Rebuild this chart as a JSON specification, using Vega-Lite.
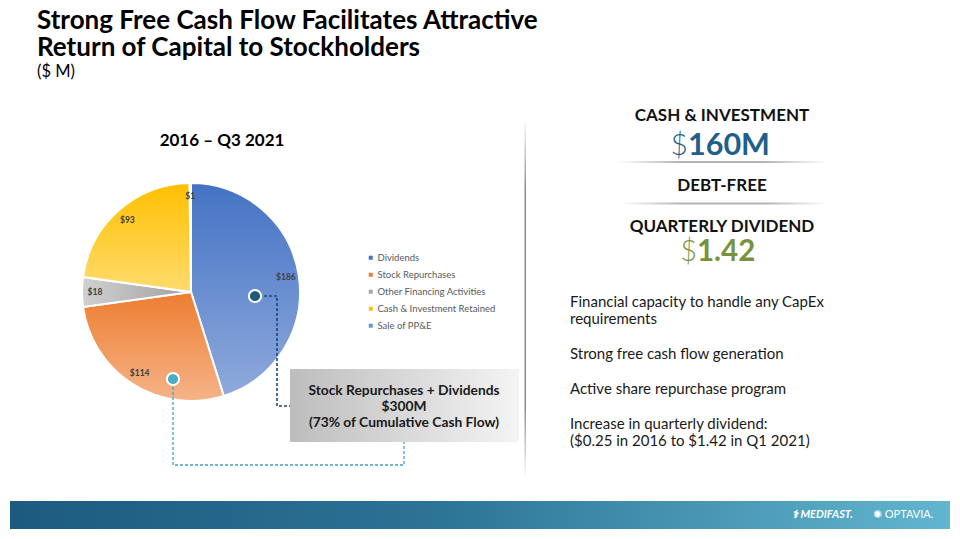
{
  "$schema": "https://vega.github.io/schema/vega-lite/v6.json",
  "width": 960,
  "height": 539,
  "autosize": {"type": "fit", "contains": "padding"},
  "padding": 0,
  "background": "white",
  "config": {"view": {"stroke": null}, "font": "Lato", "text": {"font": "Lato"}},
  "datasets": {
    "pie": [
      {"category": "Dividends", "amount": 186, "label": "$186", "order": 1},
      {"category": "Stock Repurchases", "amount": 114, "label": "$114", "order": 2},
      {"category": "Other Financing Activities", "amount": 18, "label": "$18", "order": 3},
      {"category": "Cash & Investment Retained", "amount": 93, "label": "$93", "order": 4},
      {"category": "Sale of PP&E", "amount": 1, "label": "$1", "order": 5}
    ],
    "banner": [{"x": 10, "x2": 950, "y": 501, "y2": 529}],
    "divider": [{"x": 524.5, "x2": 526, "y": 117, "y2": 480}],
    "underlines": [{"x": 618, "x2": 826, "y": 161, "y2": 163}, {"x": 620, "x2": 828, "y": 202.5, "y2": 204.5}],
    "box": [{"x": 290, "x2": 519, "y": 369, "y2": 442}],
    "darkPath": [{"s": 1, "x": 264, "y": 296}, {"s": 2, "x": 277, "y": 296}, {"s": 3, "x": 277, "y": 406}, {"s": 4, "x": 290, "y": 406}],
    "lightPath": [{"s": 1, "x": 173, "y": 387}, {"s": 2, "x": 173, "y": 465}, {"s": 3, "x": 404, "y": 465}, {"s": 4, "x": 404, "y": 442}],
    "darkDot": [{"x": 255, "y": 296}],
    "lightDot": [{"x": 173, "y": 379}],
    "title": [{"t": "Strong Free Cash Flow Facilitates Attractive", "x": 37, "y": 29}, {"t": "Return of Capital to Stockholders", "x": 37, "y": 56}],
    "subtitle": [{"t": "($ M)", "x": 37, "y": 77}],
    "pieHead": [{"t": "2016 – Q3 2021", "x": 222, "y": 146}],
    "boxText": [{"t": "Stock Repurchases + Dividends", "x": 404, "y": 391}, {"t": "$300M", "x": 404, "y": 407}, {"t": "(73% of Cumulative Cash Flow)", "x": 404, "y": 423}],
    "heads": [{"t": "CASH & INVESTMENT", "x": 722, "y": 116}, {"t": "DEBT-FREE", "x": 722, "y": 186}, {"t": "QUARTERLY DIVIDEND", "x": 722, "y": 227}],
    "bigBlueD": [{"t": "$", "x": 688, "y": 155}],
    "bigBlue": [{"t": "160M", "x": 688, "y": 155}],
    "bigGreenD": [{"t": "$", "x": 697, "y": 261}],
    "bigGreen": [{"t": "1.42", "x": 697, "y": 261}],
    "bullets": [
      {"t": "Financial capacity to handle any CapEx", "x": 570, "y": 307},
      {"t": "requirements", "x": 570, "y": 324},
      {"t": "Strong free cash flow generation", "x": 570, "y": 359},
      {"t": "Active share repurchase program", "x": 570, "y": 394},
      {"t": "Increase in quarterly dividend:", "x": 570, "y": 429},
      {"t": "($0.25 in 2016 to $1.42 in Q1 2021)", "x": 570, "y": 446}
    ],
    "logoBold": [{"t": "⚕ MEDIFAST.", "x": 792, "y": 515}],
    "logoReg": [{"t": "✺ OPTAVIA.", "x": 873, "y": 515}]
  },
  "layer": [
    {
      "data": {"name": "banner"},
      "mark": {"type": "rect", "color": {"gradient": "linear", "x1": 0, "y1": 0, "x2": 1, "y2": 0, "stops": [{"offset": 0, "color": "#1d5a80"}, {"offset": 0.45, "color": "#2c7396"}, {"offset": 1, "color": "#62b6cf"}]}},
      "encoding": {
        "x": {"field": "x", "type": "quantitative", "scale": {"domain": [0, 960], "nice": false, "zero": false}, "axis": null},
        "x2": {"field": "x2"},
        "y": {"field": "y", "type": "quantitative", "scale": {"domain": [0, 539], "nice": false, "zero": false, "reverse": true}, "axis": null},
        "y2": {"field": "y2"}
      }
    },
    {
      "data": {"name": "divider"},
      "mark": {"type": "rect", "color": {"gradient": "linear", "x1": 0, "y1": 0, "x2": 0, "y2": 1, "stops": [{"offset": 0, "color": "#ffffff"}, {"offset": 0.2, "color": "#8c8c8c"}, {"offset": 0.8, "color": "#8c8c8c"}, {"offset": 1, "color": "#ffffff"}]}},
      "encoding": {
        "x": {"field": "x", "type": "quantitative", "scale": {"domain": [0, 960], "nice": false, "zero": false}, "axis": null},
        "x2": {"field": "x2"},
        "y": {"field": "y", "type": "quantitative", "scale": {"domain": [0, 539], "nice": false, "zero": false, "reverse": true}, "axis": null},
        "y2": {"field": "y2"}
      }
    },
    {
      "data": {"name": "underlines"},
      "mark": {"type": "rect", "color": {"gradient": "linear", "x1": 0, "y1": 0, "x2": 1, "y2": 0, "stops": [{"offset": 0, "color": "#ffffff"}, {"offset": 0.3, "color": "#b3b3b3"}, {"offset": 0.7, "color": "#b3b3b3"}, {"offset": 1, "color": "#ffffff"}]}},
      "encoding": {
        "x": {"field": "x", "type": "quantitative", "scale": {"domain": [0, 960], "nice": false, "zero": false}, "axis": null},
        "x2": {"field": "x2"},
        "y": {"field": "y", "type": "quantitative", "scale": {"domain": [0, 539], "nice": false, "zero": false, "reverse": true}, "axis": null},
        "y2": {"field": "y2"}
      }
    },
    {
      "data": {"name": "box"},
      "mark": {"type": "rect", "color": {"gradient": "linear", "x1": 0, "y1": 0, "x2": 1, "y2": 0, "stops": [{"offset": 0, "color": "#bdbdbd"}, {"offset": 1, "color": "#f4f4f4"}]}},
      "encoding": {
        "x": {"field": "x", "type": "quantitative", "scale": {"domain": [0, 960], "nice": false, "zero": false}, "axis": null},
        "x2": {"field": "x2"},
        "y": {"field": "y", "type": "quantitative", "scale": {"domain": [0, 539], "nice": false, "zero": false, "reverse": true}, "axis": null},
        "y2": {"field": "y2"}
      }
    },
    {
      "data": {"name": "pie"},
      "mark": {"type": "arc", "radius": 109, "stroke": "white", "strokeWidth": 2},
      "encoding": {
        "theta": {"field": "amount", "type": "quantitative", "stack": true, "scale": {"domain": [0, 412]}},
        "order": {"field": "order", "type": "quantitative"},
        "color": {
          "field": "category", "type": "nominal",
          "sort": ["Dividends", "Stock Repurchases", "Other Financing Activities", "Cash & Investment Retained", "Sale of PP&E"],
          "scale": {"domain": ["Dividends", "Stock Repurchases", "Other Financing Activities", "Cash & Investment Retained", "Sale of PP&E"], "range": ["#4472c4", "#ed7d31", "#a5a5a5", "#ffc000", "#5b9bd5"]},
          "legend": {"orient": "none", "legendX": 366, "legendY": 253, "title": null, "symbolType": "square", "symbolSize": 16, "symbolStrokeWidth": 0, "labelFont": "Lato", "labelFontSize": 9.5, "labelColor": "#595959", "rowPadding": 6, "padding": 0, "labelOffset": 2}
        },
        "x": {"datum": 191, "type": "quantitative", "scale": {"domain": [0, 960], "nice": false, "zero": false}, "axis": null},
        "y": {"datum": 292, "type": "quantitative", "scale": {"domain": [0, 539], "nice": false, "zero": false, "reverse": true}, "axis": null}
      }
    },
    {
      "data": {"name": "pie"},
      "transform": [{"stack": "amount", "groupby": [], "sort": [{"field": "order"}], "as": ["s0", "s1"]}, {"filter": "datum.category === 'Dividends'"}],
      "mark": {"type": "arc", "radius": 109, "stroke": "white", "strokeWidth": 2, "color": {"gradient": "linear", "x1": 0, "y1": 0, "x2": 0, "y2": 1, "stops": [{"offset": 0, "color": "#4472c4"}, {"offset": 1, "color": "#8faadc"}]}},
      "encoding": {
        "theta": {"field": "s0", "type": "quantitative", "stack": null, "scale": {"domain": [0, 412]}},
        "theta2": {"field": "s1"},
        "x": {"datum": 191, "type": "quantitative", "scale": {"domain": [0, 960], "nice": false, "zero": false}, "axis": null},
        "y": {"datum": 292, "type": "quantitative", "scale": {"domain": [0, 539], "nice": false, "zero": false, "reverse": true}, "axis": null}
      }
    },
    {
      "data": {"name": "pie"},
      "transform": [{"stack": "amount", "groupby": [], "sort": [{"field": "order"}], "as": ["s0", "s1"]}, {"filter": "datum.category === 'Stock Repurchases'"}],
      "mark": {"type": "arc", "radius": 109, "stroke": "white", "strokeWidth": 2, "color": {"gradient": "linear", "x1": 0, "y1": 0, "x2": 0, "y2": 1, "stops": [{"offset": 0, "color": "#ed7d31"}, {"offset": 1, "color": "#f5b488"}]}},
      "encoding": {
        "theta": {"field": "s0", "type": "quantitative", "stack": null, "scale": {"domain": [0, 412]}},
        "theta2": {"field": "s1"},
        "x": {"datum": 191, "type": "quantitative", "scale": {"domain": [0, 960], "nice": false, "zero": false}, "axis": null},
        "y": {"datum": 292, "type": "quantitative", "scale": {"domain": [0, 539], "nice": false, "zero": false, "reverse": true}, "axis": null}
      }
    },
    {
      "data": {"name": "pie"},
      "transform": [{"stack": "amount", "groupby": [], "sort": [{"field": "order"}], "as": ["s0", "s1"]}, {"filter": "datum.category === 'Other Financing Activities'"}],
      "mark": {"type": "arc", "radius": 109, "stroke": "white", "strokeWidth": 2, "color": {"gradient": "linear", "x1": 0, "y1": 0, "x2": 1, "y2": 0, "stops": [{"offset": 0, "color": "#d0d0d0"}, {"offset": 1, "color": "#a0a0a0"}]}},
      "encoding": {
        "theta": {"field": "s0", "type": "quantitative", "stack": null, "scale": {"domain": [0, 412]}},
        "theta2": {"field": "s1"},
        "x": {"datum": 191, "type": "quantitative", "scale": {"domain": [0, 960], "nice": false, "zero": false}, "axis": null},
        "y": {"datum": 292, "type": "quantitative", "scale": {"domain": [0, 539], "nice": false, "zero": false, "reverse": true}, "axis": null}
      }
    },
    {
      "data": {"name": "pie"},
      "transform": [{"stack": "amount", "groupby": [], "sort": [{"field": "order"}], "as": ["s0", "s1"]}, {"filter": "datum.category === 'Cash & Investment Retained'"}],
      "mark": {"type": "arc", "radius": 109, "stroke": "white", "strokeWidth": 2, "color": {"gradient": "linear", "x1": 0, "y1": 0, "x2": 0, "y2": 1, "stops": [{"offset": 0, "color": "#ffc000"}, {"offset": 1, "color": "#ffdb6e"}]}},
      "encoding": {
        "theta": {"field": "s0", "type": "quantitative", "stack": null, "scale": {"domain": [0, 412]}},
        "theta2": {"field": "s1"},
        "x": {"datum": 191, "type": "quantitative", "scale": {"domain": [0, 960], "nice": false, "zero": false}, "axis": null},
        "y": {"datum": 292, "type": "quantitative", "scale": {"domain": [0, 539], "nice": false, "zero": false, "reverse": true}, "axis": null}
      }
    },
    {
      "data": {"name": "pie"},
      "mark": {"type": "text", "radius": 96, "font": "Lato", "fontSize": 8.5, "fontWeight": "bold", "color": "#404040"},
      "encoding": {
        "theta": {"field": "amount", "type": "quantitative", "stack": true, "scale": {"domain": [0, 412]}},
        "order": {"field": "order", "type": "quantitative"},
        "detail": {"field": "category", "type": "nominal"},
        "text": {"field": "label", "type": "nominal"},
        "x": {"datum": 191, "type": "quantitative", "scale": {"domain": [0, 960], "nice": false, "zero": false}, "axis": null},
        "y": {"datum": 292, "type": "quantitative", "scale": {"domain": [0, 539], "nice": false, "zero": false, "reverse": true}, "axis": null}
      }
    },
    {
      "data": {"name": "darkPath"},
      "mark": {"type": "line", "color": "#174a75", "strokeWidth": 1.6, "strokeDash": [3, 2]},
      "encoding": {
        "x": {"field": "x", "type": "quantitative", "scale": {"domain": [0, 960], "nice": false, "zero": false}, "axis": null},
        "y": {"field": "y", "type": "quantitative", "scale": {"domain": [0, 539], "nice": false, "zero": false, "reverse": true}, "axis": null},
        "order": {"field": "s", "type": "quantitative"}
      }
    },
    {
      "data": {"name": "lightPath"},
      "mark": {"type": "line", "color": "#3fa3c0", "strokeWidth": 1.3, "strokeDash": [3, 2]},
      "encoding": {
        "x": {"field": "x", "type": "quantitative", "scale": {"domain": [0, 960], "nice": false, "zero": false}, "axis": null},
        "y": {"field": "y", "type": "quantitative", "scale": {"domain": [0, 539], "nice": false, "zero": false, "reverse": true}, "axis": null},
        "order": {"field": "s", "type": "quantitative"}
      }
    },
    {
      "data": {"name": "darkDot"},
      "mark": {"type": "point", "filled": true, "size": 150, "color": "#1f5a7a", "stroke": "white", "strokeWidth": 2, "opacity": 1},
      "encoding": {
        "x": {"field": "x", "type": "quantitative", "scale": {"domain": [0, 960], "nice": false, "zero": false}, "axis": null},
        "y": {"field": "y", "type": "quantitative", "scale": {"domain": [0, 539], "nice": false, "zero": false, "reverse": true}, "axis": null}
      }
    },
    {
      "data": {"name": "lightDot"},
      "mark": {"type": "point", "filled": true, "size": 150, "color": "#4bacc6", "stroke": "white", "strokeWidth": 2, "opacity": 1},
      "encoding": {
        "x": {"field": "x", "type": "quantitative", "scale": {"domain": [0, 960], "nice": false, "zero": false}, "axis": null},
        "y": {"field": "y", "type": "quantitative", "scale": {"domain": [0, 539], "nice": false, "zero": false, "reverse": true}, "axis": null}
      }
    },
    {
      "data": {"name": "title"},
      "mark": {"type": "text", "align": "left", "baseline": "alphabetic", "font": "Lato", "fontSize": 26, "fontWeight": "bold", "color": "#000000"},
      "encoding": {
        "x": {"field": "x", "type": "quantitative", "scale": {"domain": [0, 960], "nice": false, "zero": false}, "axis": null},
        "y": {"field": "y", "type": "quantitative", "scale": {"domain": [0, 539], "nice": false, "zero": false, "reverse": true}, "axis": null},
        "text": {"field": "t"}
      }
    },
    {
      "data": {"name": "subtitle"},
      "mark": {"type": "text", "align": "left", "baseline": "alphabetic", "font": "Lato", "fontSize": 16.5, "color": "#000000"},
      "encoding": {
        "x": {"field": "x", "type": "quantitative", "scale": {"domain": [0, 960], "nice": false, "zero": false}, "axis": null},
        "y": {"field": "y", "type": "quantitative", "scale": {"domain": [0, 539], "nice": false, "zero": false, "reverse": true}, "axis": null},
        "text": {"field": "t"}
      }
    },
    {
      "data": {"name": "pieHead"},
      "mark": {"type": "text", "align": "center", "baseline": "alphabetic", "font": "Lato", "fontSize": 17, "fontWeight": "bold", "color": "#000000"},
      "encoding": {
        "x": {"field": "x", "type": "quantitative", "scale": {"domain": [0, 960], "nice": false, "zero": false}, "axis": null},
        "y": {"field": "y", "type": "quantitative", "scale": {"domain": [0, 539], "nice": false, "zero": false, "reverse": true}, "axis": null},
        "text": {"field": "t"}
      }
    },
    {
      "data": {"name": "boxText"},
      "mark": {"type": "text", "align": "center", "baseline": "middle", "font": "Lato", "fontSize": 13.8, "fontWeight": "bold", "color": "#1a1a1a"},
      "encoding": {
        "x": {"field": "x", "type": "quantitative", "scale": {"domain": [0, 960], "nice": false, "zero": false}, "axis": null},
        "y": {"field": "y", "type": "quantitative", "scale": {"domain": [0, 539], "nice": false, "zero": false, "reverse": true}, "axis": null},
        "text": {"field": "t"}
      }
    },
    {
      "data": {"name": "heads"},
      "mark": {"type": "text", "align": "center", "baseline": "middle", "font": "Lato", "fontSize": 17, "fontWeight": "bold", "color": "#111111"},
      "encoding": {
        "x": {"field": "x", "type": "quantitative", "scale": {"domain": [0, 960], "nice": false, "zero": false}, "axis": null},
        "y": {"field": "y", "type": "quantitative", "scale": {"domain": [0, 539], "nice": false, "zero": false, "reverse": true}, "axis": null},
        "text": {"field": "t"}
      }
    },
    {
      "data": {"name": "bigBlueD"},
      "mark": {"type": "text", "align": "right", "baseline": "alphabetic", "font": "Lato", "fontSize": 30, "fontWeight": 300, "color": "#1f5f8b"},
      "encoding": {
        "x": {"field": "x", "type": "quantitative", "scale": {"domain": [0, 960], "nice": false, "zero": false}, "axis": null},
        "y": {"field": "y", "type": "quantitative", "scale": {"domain": [0, 539], "nice": false, "zero": false, "reverse": true}, "axis": null},
        "text": {"field": "t"}
      }
    },
    {
      "data": {"name": "bigBlue"},
      "mark": {"type": "text", "align": "left", "baseline": "alphabetic", "font": "Lato", "fontSize": 30.5, "fontWeight": "bold", "color": "#1f5f8b"},
      "encoding": {
        "x": {"field": "x", "type": "quantitative", "scale": {"domain": [0, 960], "nice": false, "zero": false}, "axis": null},
        "y": {"field": "y", "type": "quantitative", "scale": {"domain": [0, 539], "nice": false, "zero": false, "reverse": true}, "axis": null},
        "text": {"field": "t"}
      }
    },
    {
      "data": {"name": "bigGreenD"},
      "mark": {"type": "text", "align": "right", "baseline": "alphabetic", "font": "Lato", "fontSize": 29, "fontWeight": 300, "color": "#77933c"},
      "encoding": {
        "x": {"field": "x", "type": "quantitative", "scale": {"domain": [0, 960], "nice": false, "zero": false}, "axis": null},
        "y": {"field": "y", "type": "quantitative", "scale": {"domain": [0, 539], "nice": false, "zero": false, "reverse": true}, "axis": null},
        "text": {"field": "t"}
      }
    },
    {
      "data": {"name": "bigGreen"},
      "mark": {"type": "text", "align": "left", "baseline": "alphabetic", "font": "Lato", "fontSize": 29.5, "fontWeight": "bold", "color": "#77933c"},
      "encoding": {
        "x": {"field": "x", "type": "quantitative", "scale": {"domain": [0, 960], "nice": false, "zero": false}, "axis": null},
        "y": {"field": "y", "type": "quantitative", "scale": {"domain": [0, 539], "nice": false, "zero": false, "reverse": true}, "axis": null},
        "text": {"field": "t"}
      }
    },
    {
      "data": {"name": "bullets"},
      "mark": {"type": "text", "align": "left", "baseline": "alphabetic", "font": "Lato", "fontSize": 15, "color": "#1a1a1a"},
      "encoding": {
        "x": {"field": "x", "type": "quantitative", "scale": {"domain": [0, 960], "nice": false, "zero": false}, "axis": null},
        "y": {"field": "y", "type": "quantitative", "scale": {"domain": [0, 539], "nice": false, "zero": false, "reverse": true}, "axis": null},
        "text": {"field": "t"}
      }
    },
    {
      "data": {"name": "logoBold"},
      "mark": {"type": "text", "align": "left", "baseline": "middle", "font": "Lato", "fontSize": 11, "fontWeight": "bold", "fontStyle": "italic", "color": "#ffffff"},
      "encoding": {
        "x": {"field": "x", "type": "quantitative", "scale": {"domain": [0, 960], "nice": false, "zero": false}, "axis": null},
        "y": {"field": "y", "type": "quantitative", "scale": {"domain": [0, 539], "nice": false, "zero": false, "reverse": true}, "axis": null},
        "text": {"field": "t"}
      }
    },
    {
      "data": {"name": "logoReg"},
      "mark": {"type": "text", "align": "left", "baseline": "middle", "font": "Lato", "fontSize": 11, "color": "#ffffff"},
      "encoding": {
        "x": {"field": "x", "type": "quantitative", "scale": {"domain": [0, 960], "nice": false, "zero": false}, "axis": null},
        "y": {"field": "y", "type": "quantitative", "scale": {"domain": [0, 539], "nice": false, "zero": false, "reverse": true}, "axis": null},
        "text": {"field": "t"}
      }
    }
  ]
}
